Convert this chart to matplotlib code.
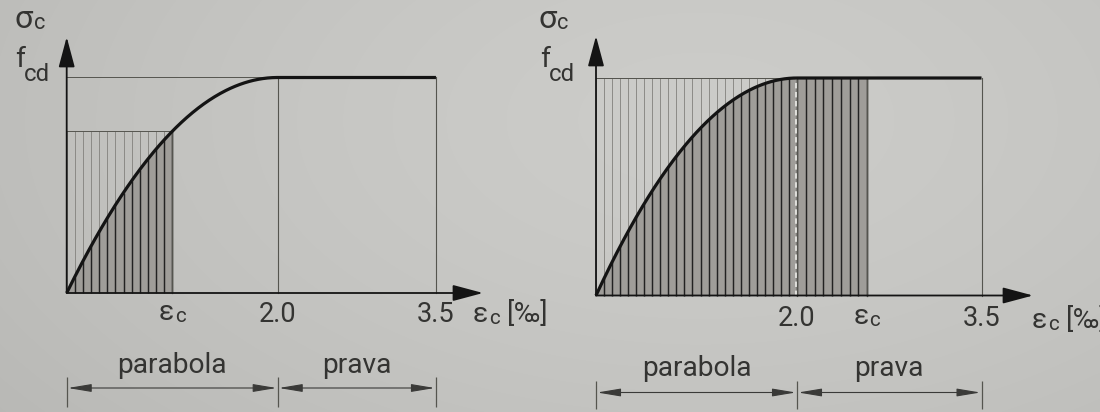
import numpy as np
import matplotlib
matplotlib.use("Agg")
import matplotlib.pyplot as plt
from matplotlib.patches import ArrowStyle
from matplotlib import transforms

plt.rcParams["font.family"] = ["Roboto", "DejaVu Sans"]

# ---- values (strain in ‰, stress relative to f_cd) ----
eps_peak = 2.0          # end of the parabolic branch
eps_ult = 3.5           # ultimate strain
f_cd = 1.0              # design compressive strength
eps_c_values = [1.0, 2.57]          # strain reached in each panel
tick_values = [2.0, 3.5]
tick_labels = ["2.0", "3.5"]
segment_names = ["parabola", "prava"]
segment_bounds = [(0.0, 2.0), (2.0, 3.5)]
unit_label = "[‰]"

# ---- styling ----
W, H, DPI = 1100, 412, 100
TEXT = "#343432"
INK = "#141414"
THIN = "#55554f"
FILL = "#9f9d99"
LIGHT_HATCH = "#878682"
DARK_HATCH = "#222222"
FS = 19.5

# per-panel layout: pixel origin, pixels per unit, horizontal stretch beyond eps_peak
PANELS = [
    dict(fig_x=(0, 550), px0=66.7, ppu=105.5, py0=293.0, ppv=215.5, stretch=1.0,
         hatch=(13, 0), x_tip=483, y_tip=37, tick_dy=-29, lab_dx=-10, lab_dy=-29,
         sig_dx=-52, sig_dy=49.5, fcd_dx=-52, fcd_dy=10.5,
         seg_dy=-80, dim_dy=-95, dim_tick=(-84, -114)),
    dict(fig_x=(550, 1100), px0=596.0, ppu=100.5, py0=295.5, ppv=217.5, stretch=1.224,
         hatch=(25, 8), x_tip=1033, y_tip=36, tick_dy=-30, lab_dx=-1, lab_dy=-32,
         sig_dx=-58, sig_dy=50, fcd_dx=-56, fcd_dy=11,
         seg_dy=-81, dim_dy=-97, dim_tick=(-85, -113)),
]


def stress(eps):
    eps = np.asarray(eps, float)
    return np.where(eps < eps_peak, f_cd * (1 - (1 - eps / eps_peak) ** 2), f_cd)


def make_scale(k):
    def fwd(e):
        e = np.asarray(e, float)
        return np.where(e <= eps_peak, e, eps_peak + (e - eps_peak) * k)

    def inv(t):
        t = np.asarray(t, float)
        return np.where(t <= eps_peak, t, eps_peak + (t - eps_peak) / k)
    return fwd, inv


def rich(ax, xy, pieces, dx_px, dy_px, ha="left"):
    """Lay out text pieces (text, scale, drop_px, gap_px) side by side."""
    fig = ax.figure
    r = fig.canvas.get_renderer()
    k = 72 / fig.dpi
    arts, cursor = [], 0.0
    for text, scale, drop, gap in pieces:
        cursor += gap
        a = ax.annotate(text, xy=xy, xycoords="data", xytext=(0, 0),
                        textcoords="offset points", fontsize=FS * scale,
                        ha="left", va="baseline", color=TEXT,
                        annotation_clip=False)
        w = a.get_window_extent(r).width
        arts.append((a, cursor, drop))
        cursor += w
    shift = {"left": 0.0, "center": -cursor / 2, "right": -cursor}[ha]
    for a, c, drop in arts:
        a.xyann = ((dx_px + shift + c) * k, (dy_px - drop) * k)


def eps_sub():
    return [("ε", 1.05, 0, 0), ("c", 0.76, 2, 0.5)]


fig = plt.figure(figsize=(W / DPI, H / DPI), dpi=DPI)

# paper background with soft lighting
bg = fig.add_axes([0, 0, 1, 1], zorder=-10)
yy, xx = np.mgrid[0:H, 0:W]
d = np.hypot((xx - 700) / 900, (yy - 120) / 500)
shade = 204 - 20 * np.clip(d, 0, 1.2) ** 1.5
img = np.dstack([shade, shade, shade - 3]) / 255
bg.imshow(np.clip(img, 0, 1), extent=(0, W, H, 0), aspect="auto")
bg.set_axis_off()

for P, eps_c in zip(PANELS, eps_c_values):
    x0, x1 = P["fig_x"]
    ax = fig.add_axes([x0 / W, 0, (x1 - x0) / W, 1])
    fwd, inv = make_scale(P["stretch"])
    ax.set_xscale("function", functions=(fwd, inv))
    ax.set_xlim(float(inv((x0 - P["px0"]) / P["ppu"])),
                float(inv((x1 - P["px0"]) / P["ppu"])))
    ppv = P["ppv"]
    ax.set_ylim((P["py0"] - H) / ppv, P["py0"] / ppv)
    ax.set_axis_off()
    ax.patch.set_alpha(0)

    x_tip = float(inv((P["x_tip"] - P["px0"]) / P["ppu"]))
    y_tip = (P["py0"] - P["y_tip"]) / ppv

    # hatched region up to eps_c
    n1, n2 = P["hatch"]
    if eps_c <= eps_peak:
        xs = np.linspace(0, eps_c, n1 + 1)
        box_top = float(stress(eps_c))
    else:
        xs = np.concatenate([np.linspace(0, eps_peak, n1 + 1),
                             np.linspace(eps_peak, eps_c, n2 + 1)[1:]])
        box_top = f_cd
    e_fill = np.linspace(0, eps_c, 300)
    ax.fill_between(e_fill, 0, stress(e_fill), color=FILL, lw=0, zorder=1)
    s_xs = stress(xs)
    ax.vlines(xs, s_xs, box_top, color=LIGHT_HATCH, lw=0.65, zorder=2)
    ax.vlines(xs, 0, s_xs, color=DARK_HATCH, lw=1.05, zorder=3)
    ax.plot([0, eps_c], [box_top, box_top], color=THIN, lw=0.7, zorder=3)
    ax.plot([eps_c, eps_c], [0, box_top], color=THIN, lw=0.9, zorder=3)
    if eps_c > eps_peak:
        off = transforms.offset_copy(ax.transData, fig=fig, x=-1.3 * 0.72, units="points")
        ax.plot([eps_peak, eps_peak], [0, f_cd], color="#e6e6e2", lw=1.3,
                dashes=(3, 2), transform=off, zorder=4)

    # frame lines
    ax.plot([0, eps_peak], [f_cd, f_cd], color=THIN, lw=0.7, zorder=3)
    for v in tick_values:
        ax.plot([v, v], [0, f_cd], color=THIN, lw=0.8, zorder=3)

    # stress-strain curve
    e_curve = np.linspace(0, eps_ult, 400)
    ax.plot(e_curve, stress(e_curve), color=INK, lw=2.3, zorder=6,
            solid_capstyle="butt")

    # axes with arrows
    head = ArrowStyle("-|>", head_length=1.87, head_width=0.5)
    ax.annotate("", xy=(x_tip, 0), xytext=(0, 0),
                arrowprops=dict(arrowstyle=head, mutation_scale=10, color=INK,
                                lw=1.3, shrinkA=0, shrinkB=0), zorder=7)
    ax.annotate("", xy=(0, y_tip), xytext=(0, 0),
                arrowprops=dict(arrowstyle=head, mutation_scale=10, color=INK,
                                lw=1.3, shrinkA=0, shrinkB=0), zorder=7)

    # labels
    rich(ax, (0, f_cd), [("σ", 1.2, 0, 0), ("c", 0.8, 1, 0.5)], P["sig_dx"], P["sig_dy"])
    rich(ax, (0, f_cd), [("f", 1.05, 0, 0), ("cd", 0.88, 14, -1)], P["fcd_dx"], P["fcd_dy"])
    for v, lab in zip(tick_values, tick_labels):
        rich(ax, (v, 0), [(lab, 1.0, 0, 0)], 0, P["tick_dy"], ha="center")
    rich(ax, (eps_c, 0), eps_sub(), 0, P["tick_dy"] + 2, ha="center")
    rich(ax, (x_tip, 0), eps_sub() + [(unit_label, 1.0, 0, 8)], P["lab_dx"], P["lab_dy"])

    # dimension lines
    y_dim = P["dim_dy"] / ppv
    t0, t1 = (t / ppv for t in P["dim_tick"])
    dim = ArrowStyle("<|-|>", head_length=1.44, head_width=0.24)
    edges = sorted({b for seg in segment_bounds for b in seg})
    ax.vlines(edges, t1, t0, color=THIN, lw=0.9)
    for name, (a, b) in zip(segment_names, segment_bounds):
        ax.annotate("", xy=(b, y_dim), xytext=(a, y_dim),
                    arrowprops=dict(arrowstyle=dim, mutation_scale=10, color="#3a3a38",
                                    lw=0.8, shrinkA=0.8, shrinkB=0.8))
        mid = float(inv((fwd(a) + fwd(b)) / 2))
        rich(ax, (mid, 0), [(name, 1.04, 0, 0)], 0, P["seg_dy"], ha="center")

fig.savefig("out.png", dpi=DPI)
